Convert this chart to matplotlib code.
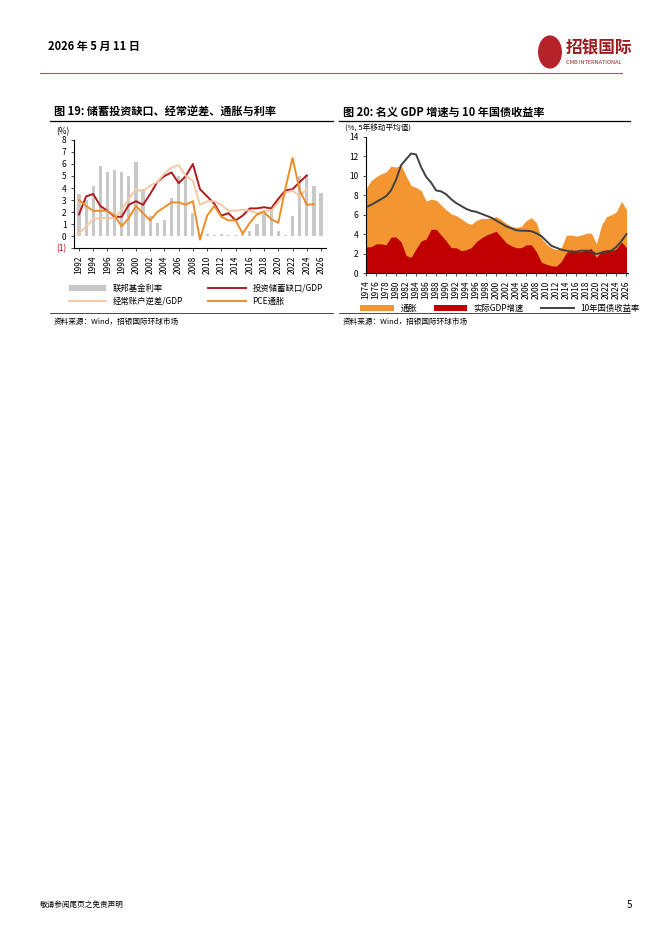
import matplotlib
matplotlib.use("Agg")
import matplotlib.pyplot as plt
import numpy as np

plt.rcParams['font.family'] = ['Noto Sans CJK SC', 'DejaVu Sans']

# ---- chart 19 data ----
years1 = list(range(1992, 2027))
fed_funds = [3.5, 3.0, 4.2, 5.8, 5.3, 5.5, 5.35, 5.0, 6.2, 3.9, 1.7, 1.1, 1.35, 3.2, 5.0, 5.0, 1.9,
             0.15, 0.18, 0.1, 0.14, 0.11, 0.09, 0.13, 0.4, 1.0, 1.8, 2.15, 0.38, 0.08, 1.7, 5.0, 5.1, 4.2, 3.6]
years_gap = list(range(1992, 2025))
si_gap = [1.8, 3.3, 3.5, 2.5, 2.1, 1.6, 1.6, 2.6, 2.9, 2.6, 3.5, 4.5, 5.0, 5.3, 4.4, 5.0, 6.0,
          3.9, 3.3, 2.7, 1.7, 1.9, 1.3, 1.7, 2.3, 2.3, 2.4, 2.3, 3.1, 3.8, 3.9, 4.5, 5.05]
ca_def = [0.2, 0.8, 1.4, 1.5, 1.5, 1.5, 2.2, 3.1, 3.9, 3.7, 4.2, 4.5, 5.2, 5.7, 5.9, 5.0, 4.6,
          2.6, 2.9, 2.9, 2.6, 2.1, 2.1, 2.2, 2.1, 1.9, 2.1, 2.1, 2.8, 3.6, 3.8, 3.3, 3.9]
years_pce = list(range(1992, 2026))
pce = [3.0, 2.5, 2.1, 2.1, 2.1, 1.7, 0.8, 1.5, 2.5, 1.9, 1.3, 2.0, 2.4, 2.8, 2.8, 2.6, 2.9,
       -0.3, 1.7, 2.5, 1.6, 1.3, 1.3, 0.2, 1.1, 1.8, 2.0, 1.4, 1.1, 4.0, 6.5, 3.8, 2.6, 2.65]

# ---- chart 20 data ----
years2 = list(range(1974, 2027))
nominal = [8.7, 9.5, 9.9, 10.2, 10.4, 11.0, 10.9, 11.1, 10.0, 9.0, 8.8, 8.5, 7.4, 7.6, 7.5, 7.0,
           6.5, 6.1, 5.9, 5.6, 5.2, 5.0, 5.4, 5.6, 5.6, 5.7, 5.8, 5.5, 5.1, 4.8, 4.7, 4.8, 5.4,
           5.7, 5.2, 3.6, 3.0, 2.6, 2.4, 2.6, 3.9, 3.9, 3.8, 3.9, 4.1, 4.1, 3.0, 4.9, 5.8, 6.0,
           6.3, 7.4, 6.5]
real_gdp = [2.7, 2.7, 3.0, 3.0, 2.9, 3.7, 3.7, 3.2, 1.8, 1.6, 2.5, 3.3, 3.5, 4.5, 4.5, 3.9,
            3.3, 2.6, 2.6, 2.3, 2.4, 2.6, 3.2, 3.6, 3.9, 4.1, 4.3, 3.7, 3.1, 2.8, 2.6, 2.6, 2.9,
            2.9, 2.2, 1.1, 0.9, 0.75, 0.7, 1.2, 2.1, 2.4, 2.2, 2.2, 2.4, 2.5, 1.6, 2.3, 2.4, 2.3,
            2.5, 3.2, 2.6]
yield10 = [6.8, 7.0, 7.3, 7.6, 7.9, 8.5, 9.6, 11.1, 11.7, 12.3, 12.2, 10.9, 9.9, 9.3, 8.5, 8.4,
           8.1, 7.6, 7.2, 6.9, 6.6, 6.4, 6.3, 6.1, 5.9, 5.7, 5.4, 5.1, 4.8, 4.6, 4.4, 4.35, 4.35,
           4.3, 4.1, 3.8, 3.3, 2.8, 2.6, 2.4, 2.3, 2.2, 2.2, 2.3, 2.3, 2.2, 1.95, 2.1, 2.2, 2.3,
           2.7, 3.3, 4.0]

W, H = 662, 936
fig = plt.figure(figsize=(W / 100, H / 100), dpi=100)

def fx(px):
    return px / W

def fy(py):
    return 1 - py / H

# page header / footer
fig.text(fx(48), fy(46), '2026 年 5 月 11 日', fontsize=8, fontweight='bold', va='center')
fig.add_artist(plt.Line2D([fx(40), fx(622)], [fy(73), fy(73)], color='#8a6a3a', lw=0.8))
fig.text(fx(566), fy(48), '招银国际', fontsize=12, fontweight='bold', color='#9b1b1e', va='center')
fig.text(fx(566), fy(62), 'CMB INTERNATIONAL', fontsize=4, color='#9b1b1e', va='center')
fig.add_artist(matplotlib.patches.Circle((fx(550), fy(52)), 0.017, transform=fig.transFigure,
                                         color='#b5222a'))
fig.text(fx(40), fy(905), '敬请参阅尾页之免责声明', fontsize=5.5, va='center')
fig.text(fx(632), fy(905), '5', fontsize=7, va='center', ha='right')

# titles and rules
fig.text(fx(54), fy(112), '图 19: 储蓄投资缺口、经常逆差、通胀与利率', fontsize=8, fontweight='bold', va='center')
fig.text(fx(343), fy(112), '图 20: 名义 GDP 增速与 10 年国债收益率', fontsize=8, fontweight='bold', va='center')
for x0, x1 in [(50, 333), (339, 630)]:
    fig.add_artist(plt.Line2D([fx(x0), fx(x1)], [fy(121), fy(121)], color='black', lw=0.9))
    fig.add_artist(plt.Line2D([fx(x0), fx(x1)], [fy(313), fy(313)], color='black', lw=0.5))
fig.text(fx(54), fy(322), '资料来源：Wind，招银国际环球市场', fontsize=5.5, va='center')
fig.text(fx(343), fy(322), '资料来源：Wind，招银国际环球市场', fontsize=5.5, va='center')

# ---- chart 19 ----
ax1 = fig.add_axes([fx(74), fy(248), fx(326 - 74), (248 - 140) / H])
ax1.bar(years1, fed_funds, width=0.45, color='#c8c8c8', label='联邦基金利率')
ax1.plot(years_gap, si_gap, color='#b01a1f', lw=1.4, label='投资储蓄缺口/GDP')
ax1.plot(years_gap, ca_def, color='#f6c9a4', lw=1.4, label='经常账户逆差/GDP')
ax1.plot(years_pce, pce, color='#ee8c28', lw=1.4, label='PCE通胀')
ax1.set_ylim(-1, 8)
ax1.set_xlim(1991.3, 2026.7)
ax1.set_yticks(range(-1, 9))
ax1.set_yticklabels(['(1)'] + [str(i) for i in range(9)], fontsize=6)
ax1.get_yticklabels()[0].set_color('#c00000')
ax1.set_xticks(range(1992, 2027, 2))
ax1.set_xticklabels([str(y) for y in range(1992, 2027, 2)], rotation=90, fontsize=6)
ax1.spines['top'].set_visible(False)
ax1.spines['right'].set_visible(False)
ax1.tick_params(length=2, width=0.5)
ax1.text(-0.07, 1.05, '(%)', transform=ax1.transAxes, fontsize=6)
h, l = ax1.get_legend_handles_labels()
order = [3, 1, 0, 2]
ax1.legend([h[i] for i in order], [l[i] for i in order], ncol=2, frameon=False, fontsize=6,
           loc='upper left', bbox_to_anchor=(-0.05, -0.26), handlelength=4.5, columnspacing=3)

# ---- chart 20 ----
ax2 = fig.add_axes([fx(366), fy(273), fx(628 - 366), (273 - 137) / H])
ax2.fill_between(years2, 0, nominal, color='#f39530', lw=0, label='通胀')
ax2.fill_between(years2, 0, real_gdp, color='#c00000', lw=0, label='实际GDP增速')
ax2.plot(years2, yield10, color='#404040', lw=1.4, label='10年国债收益率')
ax2.set_ylim(0, 14)
ax2.set_xlim(1974, 2026.3)
ax2.set_yticks(range(0, 15, 2))
ax2.set_yticklabels([str(i) for i in range(0, 15, 2)], fontsize=6)
ax2.set_xticks(range(1974, 2027, 2))
ax2.set_xticklabels([str(y) for y in range(1974, 2027, 2)], rotation=90, fontsize=6)
ax2.spines['top'].set_visible(False)
ax2.spines['right'].set_visible(False)
ax2.tick_params(length=2, width=0.5)
ax2.text(-0.08, 1.045, '(%, 5年移动平均值)', transform=ax2.transAxes, fontsize=5.5)
ax2.legend(ncol=3, frameon=False, fontsize=6, loc='upper left', bbox_to_anchor=(-0.05, -0.17),
           handlelength=4, columnspacing=2)

fig.savefig('out.png', dpi=100)
